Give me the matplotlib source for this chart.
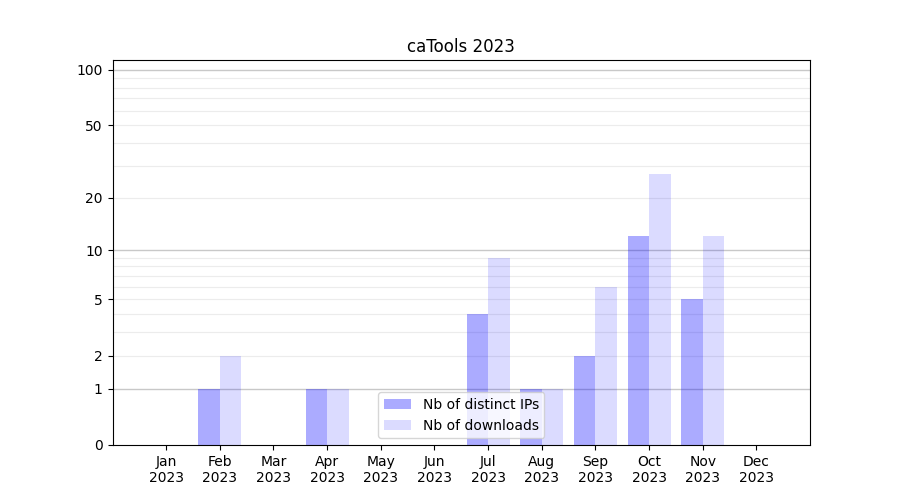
"""Monthly distinct IPs and downloads for caTools, on a log(1+x) axis."""

import matplotlib

matplotlib.use("Agg")

import matplotlib.pyplot as plt
import numpy as np

MONTHS = ["Jan", "Feb", "Mar", "Apr", "May", "Jun", "Jul", "Aug", "Sep", "Oct", "Nov", "Dec"]
YEAR = "2023"
DISTINCT_IPS = [0, 1, 0, 1, 0, 0, 4, 1, 2, 12, 5, 0]
DOWNLOADS = [0, 2, 0, 1, 0, 0, 9, 1, 6, 27, 12, 0]
Y_TICKS = [0, 1, 2, 5, 10, 20, 50, 100]


def forward(x):
    return np.log10(np.asarray(x, dtype=float) + 1)


def inverse(y):
    return 10 ** np.asarray(y, dtype=float) - 1


def main() -> None:
    fig, ax = plt.subplots(figsize=(9, 5), dpi=100)
    x = np.arange(len(MONTHS))

    ax.bar(x, DISTINCT_IPS, width=-0.4, align="edge", color="blue", alpha=0.33,
           label="Nb of distinct IPs", zorder=1)
    ax.bar(x, DOWNLOADS, width=0.4, align="edge", color="blue", alpha=0.14,
           label="Nb of downloads", zorder=1)

    ax.set_yscale("function", functions=(forward, inverse))
    ax.set_ylim(0, 113)
    ax.set_xlim(-1, 12)

    # grid: decades a bit darker, in-between values light
    for decade in (1, 10, 100):
        ax.axhline(decade, color="#c8c8c8", linewidth=1, zorder=0)
        if decade < 100:
            for k in range(2, 10):
                ax.axhline(k * decade, color="#ececec", linewidth=0.8, zorder=0)

    ax.set_yticks(Y_TICKS)
    ax.set_yticklabels([str(v) for v in Y_TICKS])
    ax.set_xticks(x)
    ax.set_xticklabels([f"{m}\n{YEAR}" for m in MONTHS])
    ax.set_title("caTools 2023")
    ax.legend(loc="lower center")

    fig.savefig("out.png", dpi=100)


if __name__ == "__main__":
    main()
